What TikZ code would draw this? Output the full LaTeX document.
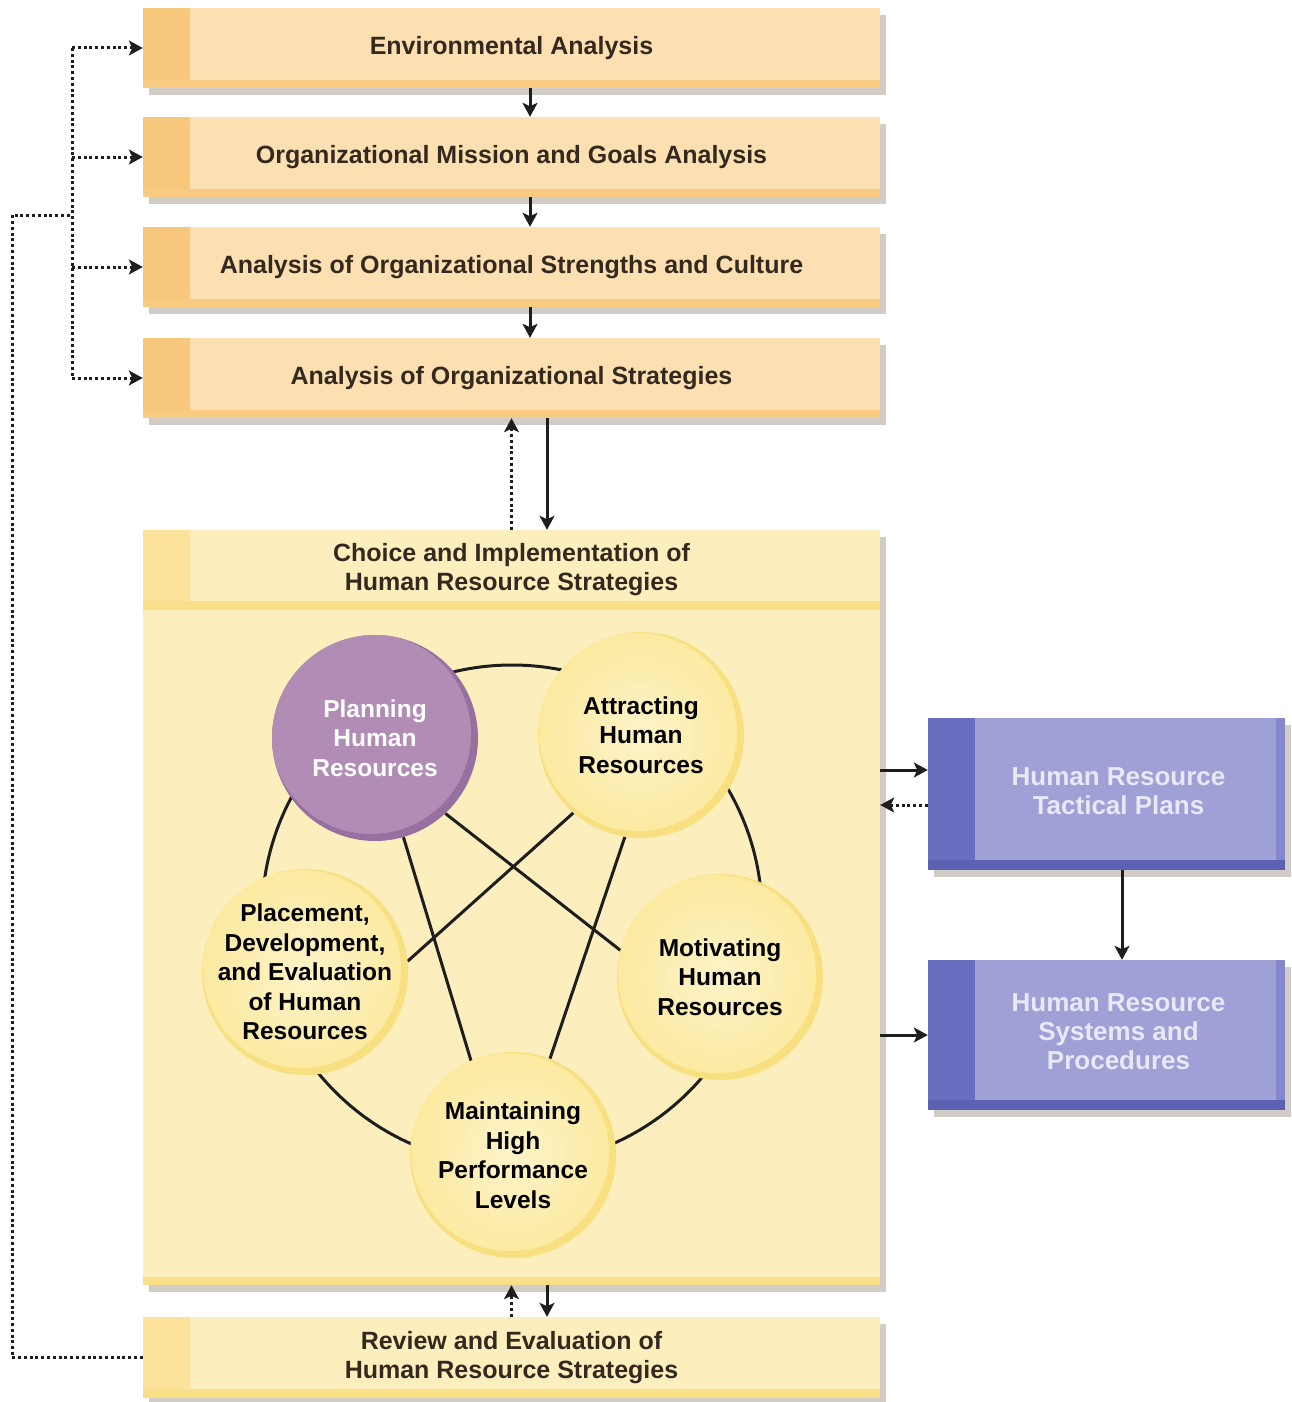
\documentclass[tikz,border=0pt]{standalone}
\usepackage{fontspec}
\setmainfont{Liberation Sans}
\usetikzlibrary{arrows.meta,shadows,calc}
\definecolor{pch}{HTML}{FDE0B2}
\definecolor{pchtab}{HTML}{F7C77C}
\definecolor{pchstrip}{HTML}{F8CB80}
\definecolor{ylw}{HTML}{FDEFBD}
\definecolor{ylwtab}{HTML}{FCE29A}
\definecolor{ylwstrip}{HTML}{FADF88}
\definecolor{prp}{HTML}{9EA0D6}
\definecolor{prptab}{HTML}{6A6EC0}
\definecolor{prpstrip}{HTML}{5C61B3}
\definecolor{prpedge}{HTML}{8588CC}
\definecolor{prptxt}{HTML}{E8E8F6}
\definecolor{txt}{HTML}{33291E}
\definecolor{plum}{HTML}{B18DB6}
\definecolor{plumdk}{HTML}{97709F}
\definecolor{cyel}{HTML}{FCEAA0}
\definecolor{cyeldk}{HTML}{F8DF80}
\definecolor{cyelin}{HTML}{FDF3C8}
\definecolor{lin}{HTML}{1E1E1E}
\definecolor{shd}{HTML}{85786A}
\pgfdeclarelayer{back}
\pgfdeclarelayer{mid}
\pgfsetlayers{back,mid,main}
\begin{document}
\begin{tikzpicture}[x=1pt,y=-1pt,
  bxbase/.style={rectangle, inner sep=0pt, minimum width=737pt, align=center,
    font=\fontsize{25}{29}\selectfont\bfseries, text=txt},
  shadowed/.style={drop shadow={shadow xshift=6pt, shadow yshift=-7pt, fill=shd, opacity=0.38}},
  pchbox/.style={bxbase, shadowed, fill=pch, minimum height=80pt,
    path picture={
      \fill[pchtab] (path picture bounding box.north west) rectangle ([xshift=47pt]path picture bounding box.south west);
      \fill[pchstrip] ([yshift=8pt]path picture bounding box.south west) rectangle (path picture bounding box.south east);}},
  ylwbox/.style={bxbase, fill=ylw,
    path picture={
      \fill[ylwtab] (path picture bounding box.north west) rectangle ([xshift=47pt]path picture bounding box.south west);
      \fill[ylwstrip] ([yshift=9pt]path picture bounding box.south west) rectangle (path picture bounding box.south east);}},
  bigbox/.style={bxbase, shadowed, fill=ylw,
    path picture={
      \fill[ylwstrip] ([yshift=8pt]path picture bounding box.south west) rectangle (path picture bounding box.south east);}},
  prpbox/.style={bxbase, shadowed, fill=prp, text=prptxt, minimum width=357pt,
    font=\fontsize{26}{29}\selectfont\bfseries,
    path picture={
      \fill[prpedge] ([xshift=-9pt]path picture bounding box.north east) rectangle (path picture bounding box.south east);
      \fill[prptab] (path picture bounding box.north west) rectangle ([xshift=47pt]path picture bounding box.south west);
      \fill[prpstrip] ([yshift=10pt]path picture bounding box.south west) rectangle (path picture bounding box.south east);}},
  circ/.style={circle, inner sep=-30pt, minimum size=206pt, align=center,
    font=\fontsize{24.5}{29.5}\selectfont\bfseries},
  ycirc/.style={circ, fill=cyeldk, text=black,
    path picture={\shade[inner color=cyelin, outer color=cyel] ([xshift=-3pt,yshift=3pt]path picture bounding box.center) circle (99pt);}},
  pcirc/.style={circ, fill=plumdk, text=white,
    path picture={\fill[plum] ([xshift=-4pt,yshift=4pt]path picture bounding box.center) circle (100pt);}},
  ring/.style={line width=3pt, draw=lin},
  arr/.style={line width=3pt, draw=lin, -{Stealth[length=14pt,width=15pt,inset=3.5pt]}},
  dotl/.style={line width=3pt, draw=lin, dash pattern=on 3pt off 2.8pt},
  darr/.style={dotl, -{Stealth[length=14pt,width=15pt,inset=3.5pt]}}
]
\useasboundingbox (0,0) rectangle (1291,1402);

\begin{pgfonlayer}{back}
\node[pchbox] (env) at (511.5,48) {Environmental Analysis};
\node[pchbox] (org) at (511.5,157) {Organizational Mission and Goals Analysis};
\node[pchbox] (str) at (511.5,267) {Analysis of Organizational Strengths and Culture};
\node[pchbox] (strat) at (511.5,378) {Analysis of Organizational Strategies};
\node[bigbox, minimum height=755pt] (impl) at (511.5,907.5) {};
\node[ylwbox, minimum height=80pt] (head) at (511.5,570) {Choice and Implementation of\\Human Resource Strategies};
\node[ylwbox, shadowed, minimum height=81pt] (rev) at (511.5,1357.5) {Review and Evaluation of\\Human Resource Strategies};
\node[prpbox, minimum height=152pt] (tact) at (1106.5,794) {\hspace*{24pt}\begin{tabular}{@{}c@{}}Human Resource\\Tactical Plans\end{tabular}};
\node[prpbox, minimum height=150pt] (sys) at (1106.5,1035) {\hspace*{24pt}\begin{tabular}{@{}c@{}}Human Resource\\Systems and\\Procedures\end{tabular}};
\end{pgfonlayer}

\node[pcirc] (plan) at (375,738) {Planning\\Human\\Resources};
\node[ycirc] (attr) at (641,735) {Attracting\\Human\\Resources};
\node[ycirc] (place) at (305,972) {Placement,\\Development,\\and Evaluation\\of Human\\Resources};
\node[ycirc] (motiv) at (720,977) {Motivating\\Human\\Resources};
\node[ycirc] (maint) at (513,1155) {Maintaining\\High\\Performance\\Levels};

\begin{pgfonlayer}{mid}
\coordinate (rc) at (512,915);
\draw[ring] (rc) circle (250pt);
\draw[ring] (plan.-74) -- (maint.114);
\draw[ring] (plan.-47) -- (motiv.165);
\draw[ring] (attr.-131) -- (place.6);
\draw[ring] (attr.-99) -- (maint.69);
\end{pgfonlayer}

% vertical arrows between top boxes
\draw[arr] ([xshift=18.5pt]env.south) -- ([xshift=18.5pt]org.north);
\draw[arr] ([xshift=18.5pt]org.south) -- ([xshift=18.5pt]str.north);
\draw[arr] ([xshift=18.5pt]str.south) -- ([xshift=18.5pt]strat.north);

% left feedback lines
\coordinate (jt) at (72,48);
\coordinate (jb) at (72,378);
\coordinate (jm) at (72,215);
\coordinate (oc) at (12,215);
\draw[dotl] (jt) -- (jb);
\foreach \b in {env,org,str,strat} \draw[darr] (\b.west -| jt) -- (\b.west);
\draw[dotl] (rev.west) -| (oc) -- (jm);

% strategies <-> implementation
\draw[darr] (impl.north) -- (strat.south);
\draw[arr] ([xshift=35.5pt]strat.south) -- ([xshift=35.5pt]impl.north);
% implementation <-> review
\draw[darr] (rev.north) -- (impl.south);
\draw[arr] ([xshift=35.5pt]impl.south) -- ([xshift=35.5pt]rev.north);

% right side
\coordinate (t1) at ([yshift=24pt]tact.west);
\coordinate (t2) at ([yshift=-11pt]tact.west);
\draw[arr] (t1 -| impl.east) -- (t1);
\draw[darr] (t2) -- (t2 -| impl.east);
\draw[arr] (sys.west -| impl.east) -- (sys.west);
\draw[arr] ([xshift=15.5pt]tact.south) -- ([xshift=15.5pt]sys.north);
\end{tikzpicture}
\end{document}
